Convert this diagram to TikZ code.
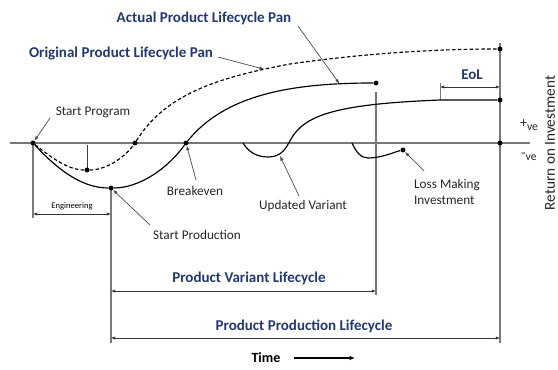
\documentclass[tikz,border=0pt]{standalone}
\usepackage{fontspec}
\setmainfont{Carlito}
\usetikzlibrary{arrows.meta}
\usetikzlibrary{positioning}
\usetikzlibrary{backgrounds}
\definecolor{planblue}{RGB}{34,56,112}
\definecolor{guide}{RGB}{120,120,120}

\tikzset{
  dot/.style={circle, fill=black, inner sep=0pt, minimum size=4.2pt},
  curve/.style={line width=1pt, black},
  guideline/.style={line width=1pt, guide},
  span/.style={line width=0.7pt, black!80, {Latex[length=3.5pt,width=2.8pt]}-{Latex[length=3.5pt,width=2.8pt]}},
  pointer/.style={line width=0.6pt, black!70, -{Latex[length=4pt,width=3pt]}},
  heading/.style={font=\fontsize{12.8}{14}\selectfont\bfseries, text=planblue},
  note/.style={font=\fontsize{11.3}{13}\selectfont, text=black!85},
  sign/.style={text=black!85, inner sep=1pt}
}

\begin{document}
\begin{tikzpicture}[x=0.03cm, y=-0.03cm]
  \useasboundingbox (0,0) rectangle (558,370);

  % milestone dots
  \node[dot] (start) at (33,143) {};
  \node[dot] (dmin) at (87,170) {};
  \node[dot] (dcross) at (135,143) {};
  \node[dot] (dend) at (500,49) {};
  \node[dot] (smin) at (111,188) {};
  \node[dot] (scross) at (186,143) {};
  \node[dot] (send) at (376,83) {};
  \node[dot] (vend) at (500,100) {};
  \node[dot] (ldot) at (403,150) {};
  \node[dot] (axend) at (500,143) {};

  \coordinate (axL) at (10,143);
  \coordinate (axR) at (530,143);
  \coordinate (engB) at (33,218);
  \coordinate (prodB) at (111,343);
  \coordinate (varT) at (376,92);
  \coordinate (varB) at (376,295);
  \coordinate (lifeT) at (500,43);
  \coordinate (lifeB) at (500,343);
  \coordinate (eolT) at (440,83);
  \coordinate (eolB) at (440,100);
  \coordinate (dtick) at (87,145);

  % axis and guide lines, kept under the dots
  \begin{scope}[on background layer]
    \draw[guideline] (axL) -- (axR);
    \draw[guideline] (start.center) -- (engB);
    \draw[guideline] (smin.center) -- (prodB);
    \draw[guideline] (varT) -- (varB);
    \draw[guideline] (lifeT) -- (lifeB);
    \draw[guideline, line width=0.7pt] (eolT) -- (eolB);
    \draw[line width=0.6pt, black!75] (dtick) -- (dmin.center);
  \end{scope}

  % original plan (dashed)
  \draw[curve, dash pattern=on 3pt off 2pt] (start) .. controls (52,158) and (68,170) .. (dmin)
    .. controls (106,170) and (124,158) .. (dcross)
    .. controls (165,95) and (215,78) .. coordinate[pos=0.88] (dptr) (290,64)
    .. controls (360,54) and (430,49) .. (dend);

  % actual plan
  \draw[curve] (start) .. controls (58,170) and (82,188) .. (smin)
    .. controls (140,188) and (168,168) .. (scross)
    .. controls (225,95) and (290,83) .. coordinate[pos=0.86] (aptr) (send);

  % updated variant
  \coordinate (v0) at (243,143);
  \coordinate (vmin) at (268,157);
  \draw[curve] (v0) .. controls (249,153) and (258,157) .. (vmin)
    .. controls (282,157) and (286,148) .. (291,139)
    .. controls (305,114) and (340,104) .. (eolB) -- (vend);
  \coordinate (vptr) at (280,156);

  % loss making investment
  \coordinate (l0) at (352,143);
  \draw[curve] (l0) .. controls (356,152) and (361,158) .. (368,158)
    .. controls (382,158) and (394,152) .. (ldot);

  % spans
  \coordinate (engL) at (33,214);
  \coordinate (engR) at (111,214);
  \draw[span] (engL) -- (engR);
  \node[font=\fontsize{7.3}{8}\selectfont] (eng) at (72,206) {Engineering};

  \coordinate (varL) at (111,291);
  \coordinate (varR) at (376,291);
  \draw[span] (varL) -- (varR);
  \node[heading] (varlab) at (249,278) {Product Variant Lifecycle};

  \coordinate (prodL) at (111,338);
  \coordinate (prodR) at (500,338);
  \draw[span] (prodL) -- (prodR);
  \node[heading] (prodlab) at (304,326) {Product Production Lifecycle};

  \coordinate (eolL) at (440,87);
  \coordinate (eolR) at (500,87);
  \draw[span] (eolL) -- (eolR);
  \node[heading] (eol) at (472,75) {EoL};

  % headings
  \node[heading] (actual) at (204,18) {Actual Product Lifecycle Pan};
  \node[heading] (orig) at (121,54) {Original Product Lifecycle Pan};
  \coordinate (actualP) at (298,26);
  \coordinate (origP) at (218,57);
  \draw[pointer] (actualP) -- (aptr);
  \draw[pointer] (origP) -- (dptr);

  % milestones
  \node[note] (prog) at (93,112) {Start Program};
  \node[note] (brk) at (195,191) {Breakeven};
  \node[note] (sprod) at (197,235) {Start Production};
  \node[note] (upd) at (303,206) {Updated Variant};
  \node[note, align=left, anchor=west] (loss) at (410,192) {Loss Making\\Investment};

  \coordinate (progP) at (50,118);
  \coordinate (brkP) at (196,180);
  \coordinate (sprodP) at (150,225);
  \coordinate (updP) at (299,196);
  \coordinate (lossP) at (424,171);
  \draw[pointer] (progP) -- (start);
  \draw[pointer] (brkP) -- (scross);
  \draw[pointer] (sprodP) -- (smin);
  \draw[pointer] (updP) -- (vptr);
  \draw[pointer] (lossP) -- (ldot);

  % axis side labels
  \node[sign] (pos) at (529,125) {\raisebox{2.5pt}{\fontsize{12}{13}\selectfont +}{\fontsize{10}{11}\selectfont ve}};
  \node[sign] (neg) at (529,157) {\raisebox{2.5pt}{\fontsize{12}{13}\selectfont -}{\fontsize{10}{11}\selectfont ve}};
  \node[font=\fontsize{13}{15}\selectfont, text=black!85, rotate=90] (roi) at (550,143) {Return on Investment};

  % time axis
  \node[font=\fontsize{12}{14}\selectfont\bfseries] (time) at (266,358) {Time};
  \coordinate (timeE) at (355,358);
  \draw[line width=1.1pt, -{Latex[length=4.5pt,width=3.8pt]}] ([xshift=8pt]time.east) -- (timeE);
\end{tikzpicture}
\end{document}
